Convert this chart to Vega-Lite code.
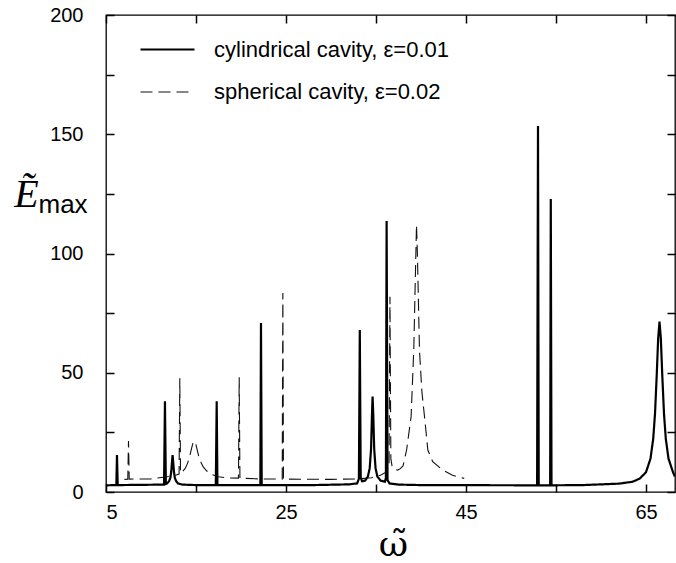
{
  "$schema": "https://vega.github.io/schema/vega-lite/v6.json",
  "autosize": {"type": "none"},
  "padding": {"left": 106, "top": 15, "right": 1, "bottom": 71},
  "width": 569,
  "height": 477,
  "background": "white",
  "config": {
    "view": {"stroke": "black", "strokeWidth": 1.3},
    "axis": {"grid": false, "domain": false, "labelFont": "Liberation Sans", "labelFontSize": 20, "labelColor": "black", "titleColor": "black"}
  },
  "data": {"values": [
    {"k": "cyl", "w": 5.0, "E": 2.8}, {"k": "cyl", "w": 6.15, "E": 2.9}, {"k": "cyl", "w": 6.22, "E": 15.5}, {"k": "cyl", "w": 6.3, "E": 2.9},
    {"k": "cyl", "w": 11.45, "E": 3.1}, {"k": "cyl", "w": 11.55, "E": 38}, {"k": "cyl", "w": 11.65, "E": 3.4}, {"k": "cyl", "w": 11.8, "E": 3.6},
    {"k": "cyl", "w": 12.0, "E": 4.5}, {"k": "cyl", "w": 12.15, "E": 5.9}, {"k": "cyl", "w": 12.25, "E": 8.5}, {"k": "cyl", "w": 12.32, "E": 12},
    {"k": "cyl", "w": 12.4, "E": 15.5}, {"k": "cyl", "w": 12.48, "E": 12}, {"k": "cyl", "w": 12.55, "E": 8.5}, {"k": "cyl", "w": 12.65, "E": 5.9},
    {"k": "cyl", "w": 12.8, "E": 4.5}, {"k": "cyl", "w": 13.0, "E": 3.6}, {"k": "cyl", "w": 13.5, "E": 3.1}, {"k": "cyl", "w": 15.0, "E": 2.9},
    {"k": "cyl", "w": 17.2, "E": 2.9}, {"k": "cyl", "w": 17.3, "E": 38}, {"k": "cyl", "w": 17.38, "E": 2.9},
    {"k": "cyl", "w": 22.15, "E": 2.9}, {"k": "cyl", "w": 22.22, "E": 70.9}, {"k": "cyl", "w": 22.3, "E": 2.9},
    {"k": "cyl", "w": 28.0, "E": 2.9}, {"k": "cyl", "w": 32.0, "E": 3.2}, {"k": "cyl", "w": 32.9, "E": 3.6}, {"k": "cyl", "w": 33.1, "E": 5.5},
    {"k": "cyl", "w": 33.2, "E": 67.9}, {"k": "cyl", "w": 33.3, "E": 6}, {"k": "cyl", "w": 33.45, "E": 4.5}, {"k": "cyl", "w": 33.8, "E": 4.8},
    {"k": "cyl", "w": 34.1, "E": 6.5}, {"k": "cyl", "w": 34.3, "E": 10}, {"k": "cyl", "w": 34.45, "E": 18}, {"k": "cyl", "w": 34.55, "E": 32},
    {"k": "cyl", "w": 34.62, "E": 40}, {"k": "cyl", "w": 34.7, "E": 32}, {"k": "cyl", "w": 34.8, "E": 18}, {"k": "cyl", "w": 34.95, "E": 10},
    {"k": "cyl", "w": 35.15, "E": 6.5}, {"k": "cyl", "w": 35.5, "E": 4.8}, {"k": "cyl", "w": 36.0, "E": 4.3}, {"k": "cyl", "w": 36.1, "E": 6},
    {"k": "cyl", "w": 36.18, "E": 113.6}, {"k": "cyl", "w": 36.28, "E": 5}, {"k": "cyl", "w": 36.5, "E": 3.6}, {"k": "cyl", "w": 37.5, "E": 3.1},
    {"k": "cyl", "w": 40.0, "E": 2.9}, {"k": "cyl", "w": 52.9, "E": 2.8}, {"k": "cyl", "w": 53.0, "E": 153.5}, {"k": "cyl", "w": 53.08, "E": 2.8},
    {"k": "cyl", "w": 54.35, "E": 2.8}, {"k": "cyl", "w": 54.42, "E": 122.8}, {"k": "cyl", "w": 54.5, "E": 2.8}, {"k": "cyl", "w": 58.0, "E": 2.9},
    {"k": "cyl", "w": 62.0, "E": 3.5}, {"k": "cyl", "w": 63.5, "E": 4.3}, {"k": "cyl", "w": 64.3, "E": 5.6}, {"k": "cyl", "w": 65.0, "E": 8.3},
    {"k": "cyl", "w": 65.5, "E": 14}, {"k": "cyl", "w": 65.8, "E": 22.3}, {"k": "cyl", "w": 66.0, "E": 32.8}, {"k": "cyl", "w": 66.2, "E": 49.7},
    {"k": "cyl", "w": 66.35, "E": 64.3}, {"k": "cyl", "w": 66.5, "E": 71.4}, {"k": "cyl", "w": 66.65, "E": 64.3}, {"k": "cyl", "w": 66.8, "E": 49.7},
    {"k": "cyl", "w": 67.0, "E": 32.8}, {"k": "cyl", "w": 67.2, "E": 22.3}, {"k": "cyl", "w": 67.5, "E": 14}, {"k": "cyl", "w": 68.0, "E": 8.3},
    {"k": "cyl", "w": 68.2, "E": 6.5},
    {"k": "sph", "w": 7.05, "E": 5.3}, {"k": "sph", "w": 7.42, "E": 5.4}, {"k": "sph", "w": 7.5, "E": 21.4}, {"k": "sph", "w": 7.58, "E": 5.4},
    {"k": "sph", "w": 10.0, "E": 5.5}, {"k": "sph", "w": 12.0, "E": 6.5}, {"k": "sph", "w": 12.8, "E": 7.1}, {"k": "sph", "w": 13.12, "E": 7.5},
    {"k": "sph", "w": 13.2, "E": 47.7}, {"k": "sph", "w": 13.28, "E": 7.9}, {"k": "sph", "w": 13.4, "E": 8.2}, {"k": "sph", "w": 13.8, "E": 9.9},
    {"k": "sph", "w": 14.05, "E": 11.9}, {"k": "sph", "w": 14.3, "E": 15}, {"k": "sph", "w": 14.5, "E": 18.2}, {"k": "sph", "w": 14.65, "E": 20.4},
    {"k": "sph", "w": 14.8, "E": 21.3}, {"k": "sph", "w": 14.95, "E": 20.4}, {"k": "sph", "w": 15.1, "E": 18.2}, {"k": "sph", "w": 15.3, "E": 15},
    {"k": "sph", "w": 15.55, "E": 12.5}, {"k": "sph", "w": 15.8, "E": 10.5}, {"k": "sph", "w": 16.2, "E": 8.8}, {"k": "sph", "w": 16.8, "E": 7.3},
    {"k": "sph", "w": 17.5, "E": 6.4}, {"k": "sph", "w": 18.5, "E": 5.9}, {"k": "sph", "w": 19.72, "E": 5.8}, {"k": "sph", "w": 19.8, "E": 48.1},
    {"k": "sph", "w": 19.88, "E": 5.8}, {"k": "sph", "w": 22.0, "E": 5.5}, {"k": "sph", "w": 24.58, "E": 5.4}, {"k": "sph", "w": 24.65, "E": 83.4},
    {"k": "sph", "w": 24.72, "E": 5.4}, {"k": "sph", "w": 30.0, "E": 5.3}, {"k": "sph", "w": 33.0, "E": 5.5}, {"k": "sph", "w": 34.5, "E": 6.0},
    {"k": "sph", "w": 35.5, "E": 7.0}, {"k": "sph", "w": 36.2, "E": 8.5}, {"k": "sph", "w": 36.45, "E": 12}, {"k": "sph", "w": 36.55, "E": 81.9},
    {"k": "sph", "w": 36.65, "E": 14}, {"k": "sph", "w": 36.8, "E": 10.5}, {"k": "sph", "w": 37.1, "E": 9.4}, {"k": "sph", "w": 37.4, "E": 9.2},
    {"k": "sph", "w": 37.7, "E": 9.8}, {"k": "sph", "w": 38.0, "E": 10.9}, {"k": "sph", "w": 38.4, "E": 17.6}, {"k": "sph", "w": 38.9, "E": 31.6},
    {"k": "sph", "w": 39.2, "E": 60}, {"k": "sph", "w": 39.4, "E": 95}, {"k": "sph", "w": 39.5, "E": 112}, {"k": "sph", "w": 39.6, "E": 100},
    {"k": "sph", "w": 39.83, "E": 59.5}, {"k": "sph", "w": 40.1, "E": 42}, {"k": "sph", "w": 40.39, "E": 31.6}, {"k": "sph", "w": 40.76, "E": 17.6},
    {"k": "sph", "w": 41.3, "E": 12.7}, {"k": "sph", "w": 42.4, "E": 9.2}, {"k": "sph", "w": 43.5, "E": 7.0}, {"k": "sph", "w": 44.8, "E": 5.7}
  ]},
  "layer": [
    {
      "mark": {"type": "line", "clip": true, "interpolate": "linear"},
      "encoding": {
        "x": {"field": "w", "type": "quantitative",
          "scale": {"domain": [5, 68.222], "nice": false, "zero": false},
          "axis": {"orient": "bottom", "values": [5, 15, 25, 35, 45, 55, 65], "labelExpr": "datum.value % 20 == 5 ? datum.label : ''", "tickSize": -8, "tickColor": "black", "tickWidth": 1.5, "labelPadding": 18,
            "title": "ω̃", "titleFont": "DejaVu Serif", "titleFontSize": 36, "titleFontWeight": "normal", "titleBaseline": "alphabetic", "titleY": 63, "titleX": 287, "titleAlign": "center"}},
        "y": {"field": "E", "type": "quantitative",
          "scale": {"domain": [0, 200], "nice": false},
          "axis": {"orient": "left", "values": [0, 25, 50, 75, 100, 125, 150, 175, 200], "labelExpr": "datum.value % 50 == 0 ? datum.label : ''", "tickSize": -8, "tickColor": "black", "tickWidth": 1.5, "labelPadding": 31,
            "title": "Ẽ", "titleFont": "Liberation Serif", "titleFontStyle": "italic", "titleFontWeight": "normal", "titleFontSize": 40, "titleAngle": 0, "titleAlign": "center", "titleBaseline": "alphabetic", "titleX": -80, "titleY": 191}},
        "detail": {"field": "k"},
        "color": {"field": "k", "type": "nominal", "scale": {"domain": ["cyl", "sph"], "range": ["#000000", "#111111"]},
          "legend": {"orient": "none", "legendX": 33, "legendY": 6, "title": null, "symbolType": "stroke", "symbolSize": 2916, "labelFont": "Liberation Sans", "labelFontSize": 22, "labelColor": "black", "labelOffset": 18, "rowPadding": 3, "padding": 0, "labelLimit": 0,
            "labelExpr": "datum.value == 'cyl' ? 'cylindrical cavity, ε=0.01' : 'spherical cavity, ε=0.02'"}},
        "strokeDash": {"field": "k", "type": "nominal", "scale": {"domain": ["cyl", "sph"], "range": [[1, 0], [12, 6]]}},
        "strokeWidth": {"field": "k", "type": "nominal", "scale": {"domain": ["cyl", "sph"], "range": [2.2, 1.1]}}
      }
    },
    {
      "mark": {"type": "point", "opacity": 0},
      "encoding": {
        "x": {"field": "w", "type": "quantitative",
          "axis": {"orient": "top", "values": [5, 15, 25, 35, 45, 55, 65], "labels": false, "tickSize": -8, "tickColor": "black", "tickWidth": 1.5, "title": null}},
        "y": {"field": "E", "type": "quantitative",
          "axis": {"orient": "right", "values": [0, 25, 50, 75, 100, 125, 150, 175, 200], "labels": false, "tickSize": -8, "tickColor": "black", "tickWidth": 1.5,
            "title": "max", "titleFont": "Liberation Sans", "titleFontWeight": "normal", "titleFontSize": 26, "titleAngle": 0, "titleAlign": "left", "titleBaseline": "alphabetic", "titleX": -637, "titleY": 197}}
      }
    }
  ],
  "resolve": {"axis": {"x": "independent", "y": "independent"}}
}
